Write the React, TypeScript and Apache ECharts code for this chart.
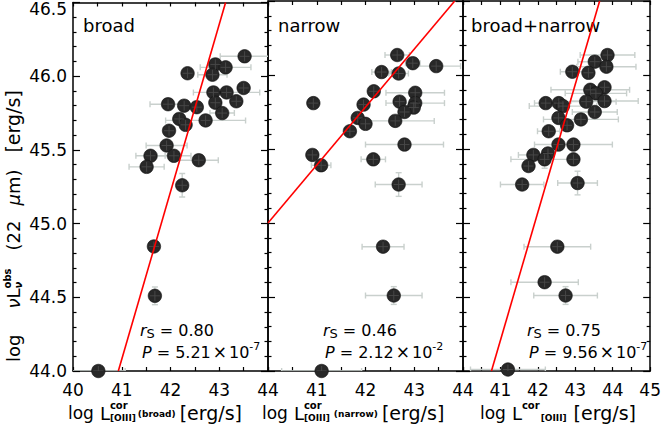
import React, { useEffect, useRef } from "react";
import * as echarts from "echarts";

// ---------------- data ----------------
const panelNames = ["broad", "narrow", "broad+narrow"];
const xMins = [40, 40, 40];
const xMaxes = [44, 44, 45];
const yMin = 44.0;
const yMax = 46.5;

const broadX = [43.52, 42.92, 43.13, 42.86, 42.35, 43.5, 43.15, 42.88, 43.35, 42.92, 41.95, 42.28, 42.54, 43.06, 42.18, 42.31, 42.72, 41.97, 41.92, 42.07, 41.59, 41.51, 42.58, 42.24, 41.66, 41.68, 40.52];
const broadY = [46.135, 46.08, 46.06, 46.01, 46.02, 45.92, 45.89, 45.89, 45.83, 45.82, 45.81, 45.8, 45.79, 45.75, 45.71, 45.67, 45.7, 45.63, 45.53, 45.46, 45.46, 45.385, 45.43, 45.26, 44.845, 44.51, 44.0];
const broadXErr = [0.5, 0, 0.52, 0.3, 0, 0, 0.68, 0, 0, 0, 0.37, 0, 0, 0.25, 0, 0, 0.82, 0, 0.42, 0.35, 0.3, 0.36, 0.4, 0, 0, 0, 0.55];
const broadYErr = [0, 0, 0, 0, 0, 0, 0, 0, 0, 0, 0, 0, 0, 0, 0, 0, 0, 0, 0, 0, 0, 0, 0, 0.08, 0, 0.06, 0];

const narrowX = [42.65, 42.97, 43.45, 42.33, 42.68, 42.17, 43.02, 40.93, 41.96, 42.7, 43.02, 42.99, 42.8, 41.84, 42.0, 42.61, 41.68, 42.8, 40.91, 41.09, 42.16, 42.68, 42.36, 42.58, 41.1];
const narrowY = [46.135, 46.08, 46.06, 46.02, 46.01, 45.89, 45.88, 45.81, 45.8, 45.82, 45.81, 45.78, 45.75, 45.71, 45.67, 45.69, 45.62, 45.53, 45.46, 45.39, 45.43, 45.26, 44.84, 44.51, 44.0];
const narrowXErr = [0.25, 0.15, 0.5, 0.2, 0.2, 0, 0.6, 0, 0, 0, 0.6, 0, 0, 0, 0, 0.8, 0, 0.8, 0, 0.2, 0.25, 0.48, 0.43, 0.58, 0.82];
const narrowYErr = [0, 0, 0, 0, 0, 0, 0, 0, 0, 0, 0, 0, 0, 0, 0, 0, 0, 0, 0, 0, 0, 0.08, 0, 0.06, 0];

const combX = [43.86, 43.52, 43.83, 42.92, 43.35, 43.4, 43.78, 43.55, 43.78, 43.29, 42.21, 42.56, 42.67, 43.52, 42.55, 42.78, 43.15, 42.29, 42.55, 42.95, 41.88, 42.27, 42.18, 42.95, 41.75, 41.58, 43.06, 42.52, 42.18, 42.74, 41.2];
const combY = [46.135, 46.09, 46.056, 46.022, 46.015, 45.9, 45.917, 45.876, 45.824, 45.82, 45.81, 45.81, 45.79, 45.75, 45.71, 45.66, 45.7, 45.62, 45.53, 45.53, 45.46, 45.47, 45.43, 45.43, 45.385, 45.26, 45.27, 44.84, 44.6, 44.51, 44.01];
const combXErr = [0.73, 0.45, 0.79, 0.32, 0, 1.05, 0, 0.82, 0.9, 0.8, 0.3, 0, 0.9, 0.6, 0, 0, 1.0, 0.3, 0, 1.04, 0.4, 0, 0.9, 0, 0, 0.58, 0.53, 0.89, 0.9, 0.85, 1.0];
const combYErr = [0, 0, 0, 0, 0, 0, 0, 0, 0, 0, 0, 0, 0, 0, 0, 0, 0, 0, 0, 0, 0, 0, 0.06, 0, 0, 0, 0.08, 0, 0, 0.06, 0];

// fitted lines (end points)
const broadFit = [[40.93, 44.0], [43.13, 46.5]];
const narrowFit = [[40.0, 45.0], [43.83, 46.5]];
const combFit = [[40.76, 44.0], [43.65, 46.5]];

const rsValues = ["0.80", "0.46", "0.75"];
const pMantissas = ["5.21", "2.12", "9.56"];
const pExponents = ["-7", "-2", "-7"];

// ---------------- styling ----------------
const FONT = "DejaVu Sans";
const ERR_COLOR = "#c9d0cd";
const PT_COLOR = "#282828";

type Piece = { t: string; size: number; italic?: boolean; bold?: boolean; dy?: number; pre?: number; stack?: boolean };

let measureCtx: CanvasRenderingContext2D | null = null;
function measure(t: string, size: number, italic?: boolean, bold?: boolean) {
  if (!measureCtx) measureCtx = document.createElement("canvas").getContext("2d");
  if (!measureCtx) return t.length * size * 0.6;
  measureCtx.font = `${italic ? "italic " : ""}${bold ? "bold " : ""}${size}px "${FONT}"`;
  return measureCtx.measureText(t).width;
}

function seq(pieces: Piece[], x: number, y: number, rotation = 0) {
  let cx = 0;
  let stackW = 0;
  const children: any[] = [];
  for (const p of pieces) {
    cx += p.pre || 0;
    const w = measure(p.t, p.size, p.italic, p.bold);
    children.push({
      type: "text",
      x: cx,
      y: p.dy || 0,
      style: {
        text: p.t,
        fontSize: p.size,
        fontFamily: FONT,
        fontStyle: p.italic ? "italic" : "normal",
        fontWeight: p.bold ? "bold" : "normal",
        fill: "#000",
        align: "left",
        verticalAlign: "middle",
        textAlign: "left",
        textVerticalAlign: "middle",
      },
    });
    if (p.stack) {
      stackW = Math.max(stackW, w);
    } else {
      cx += Math.max(w, stackW);
      stackW = 0;
    }
  }
  return { type: "group", x, y, rotation, children, silent: true };
}

function errRender(params: any, api: any) {
  const x = api.value(0);
  const y = api.value(1);
  const xe = api.value(2);
  const ye = api.value(3);
  const st = { stroke: ERR_COLOR, lineWidth: 1.4 };
  const cap = 3;
  const ch: any[] = [];
  if (xe > 0) {
    const a = api.coord([x - xe, y]);
    const b = api.coord([x + xe, y]);
    ch.push({ type: "line", shape: { x1: a[0], y1: a[1], x2: b[0], y2: b[1] }, style: st });
    ch.push({ type: "line", shape: { x1: a[0], y1: a[1] - cap, x2: a[0], y2: a[1] + cap }, style: st });
    ch.push({ type: "line", shape: { x1: b[0], y1: b[1] - cap, x2: b[0], y2: b[1] + cap }, style: st });
  }
  if (ye > 0) {
    const a = api.coord([x, y - ye]);
    const b = api.coord([x, y + ye]);
    ch.push({ type: "line", shape: { x1: a[0], y1: a[1], x2: b[0], y2: b[1] }, style: st });
    ch.push({ type: "line", shape: { x1: a[0] - cap, y1: a[1], x2: a[0] + cap, y2: a[1] }, style: st });
    ch.push({ type: "line", shape: { x1: b[0] - cap, y1: b[1], x2: b[0] + cap, y2: b[1] }, style: st });
  }
  return { type: "group", children: ch };
}

function crossRender(params: any, api: any) {
  const c = api.coord([api.value(0), api.value(1)]);
  const st = { stroke: "#4a4a4a", lineWidth: 0.9 };
  const r = 5;
  return {
    type: "group",
    children: [
      { type: "line", shape: { x1: c[0] - r, y1: c[1], x2: c[0] + r, y2: c[1] }, style: st },
      { type: "line", shape: { x1: c[0], y1: c[1] - r, x2: c[0], y2: c[1] + r }, style: st },
    ],
  };
}

function buildOption() {
  const lefts = [73, 268, 463];
  const W = 195;
  const panelsX = [broadX, narrowX, combX];
  const panelsY = [broadY, narrowY, combY];
  const panelsXE = [broadXErr, narrowXErr, combXErr];
  const panelsYE = [broadYErr, narrowYErr, combYErr];
  const fits = [broadFit, narrowFit, combFit];

  const grid = lefts.map((l) => ({ left: l, top: 1, width: W, height: 370 }));
  const axisLine = { show: true, onZero: false, lineStyle: { color: "#000", width: 1.5 } };
  const tickLine = { color: "#000", width: 1.2 };
  const xAxis: any[] = [];
  const yAxis: any[] = [];
  const series: any[] = [];

  lefts.forEach((_, i) => {
    const xBase = {
      type: "value",
      gridIndex: i,
      min: xMins[i],
      max: xMaxes[i],
      interval: 1,
      axisLine,
      axisTick: { show: true, inside: true, length: 4, lineStyle: tickLine },
      minorTick: { show: true, splitNumber: 2, length: 4, lineStyle: tickLine },
      splitLine: { show: false },
      minorSplitLine: { show: false },
    };
    xAxis.push({
      ...xBase,
      position: "bottom",
      axisLabel: {
        show: true,
        showMinLabel: i === 0,
        showMaxLabel: true,
        margin: 10,
        color: "#000",
        fontSize: 17,
        fontFamily: FONT,
      },
    });
    xAxis.push({ ...xBase, position: "top", axisLabel: { show: false } });

    const yBase = {
      type: "value",
      gridIndex: i,
      min: yMin,
      max: yMax,
      interval: 0.5,
      axisLine,
      axisTick: { show: true, inside: true, length: 7, lineStyle: tickLine },
      minorTick: { show: true, splitNumber: 5, length: 3.5, lineStyle: tickLine },
      splitLine: { show: false },
      minorSplitLine: { show: false },
    };
    yAxis.push({
      ...yBase,
      position: "left",
      axisLabel: {
        show: i === 0,
        margin: 6,
        color: "#000",
        fontSize: 17,
        fontFamily: FONT,
        formatter: (v: number) => (Math.abs(v - yMax) < 1e-6 ? "{t|" + v.toFixed(1) + "}" : v.toFixed(1)),
        rich: { t: { fontSize: 17, fontFamily: FONT, color: "#000", padding: [12, 0, 0, 0] } },
      },
    });
    yAxis.push({ ...yBase, position: "right", axisLabel: { show: false } });

    const xs = panelsX[i];
    const ys = panelsY[i];
    const errData: number[][] = [];
    xs.forEach((x, k) => {
      if (panelsXE[i][k] > 0 || panelsYE[i][k] > 0) errData.push([x, ys[k], panelsXE[i][k], panelsYE[i][k]]);
    });
    const pts = xs.map((x, k) => [x, ys[k]]);

    series.push({
      type: "custom",
      xAxisIndex: 2 * i,
      yAxisIndex: 2 * i,
      dimensions: ["x", "y", "xe", "ye"],
      encode: { x: 0, y: 1 },
      data: errData,
      renderItem: errRender,
      clip: true,
      silent: true,
      z: 2,
    });
    series.push({
      type: "scatter",
      xAxisIndex: 2 * i,
      yAxisIndex: 2 * i,
      data: pts,
      symbol: "circle",
      symbolSize: 13.5,
      itemStyle: { color: PT_COLOR, borderColor: "#111", borderWidth: 0.6, opacity: 1 },
      clip: true,
      silent: true,
      z: 3,
    });
    series.push({
      type: "custom",
      xAxisIndex: 2 * i,
      yAxisIndex: 2 * i,
      dimensions: ["x", "y"],
      encode: { x: 0, y: 1 },
      data: pts,
      renderItem: crossRender,
      clip: true,
      silent: true,
      z: 4,
    });
    series.push({
      type: "line",
      xAxisIndex: 2 * i,
      yAxisIndex: 2 * i,
      data: fits[i],
      symbol: "none",
      showSymbol: false,
      lineStyle: { color: "#ff0000", width: 1.6 },
      clip: true,
      silent: true,
      z: 5,
    });
  });

  const graphic: any[] = [];
  // panel names
  const nameX = [83, 278, 471];
  panelNames.forEach((n, i) => {
    graphic.push(seq([{ t: n, size: 18 }], nameX[i], 25));
  });
  // statistics
  const statX = [140, 323, 527];
  rsValues.forEach((rs, i) => {
    graphic.push(
      seq(
        [
          { t: "r", size: 16, italic: true },
          { t: "S", size: 13, dy: 3 },
          { t: "= " + rs, size: 16, pre: 5 },
        ],
        statX[i],
        330
      )
    );
    graphic.push(
      seq(
        [
          { t: "P", size: 16, italic: true },
          { t: "= " + pMantissas[i], size: 16, pre: 5 },
          { t: "\u00d7", size: 17, pre: 2 },
          { t: "10", size: 16, pre: 2 },
          { t: pExponents[i], size: 11, dy: -6 },
        ],
        statX[i] + 2,
        352
      )
    );
  });
  // x axis titles
  const xtY = 413;
  graphic.push(
    seq(
      [
        { t: "log", size: 17 },
        { t: "L", size: 18, pre: 6 },
        { t: "cor", size: 10, bold: true, dy: -8, stack: true },
        { t: "[OIII]", size: 9, bold: true, dy: 5 },
        { t: "(broad)", size: 9, bold: true, dy: 1, pre: 2 },
        { t: "[erg/s]", size: 19, pre: 4 },
      ],
      68,
      xtY
    )
  );
  graphic.push(
    seq(
      [
        { t: "log", size: 17 },
        { t: "L", size: 18, pre: 6 },
        { t: "cor", size: 10, bold: true, dy: -8, stack: true },
        { t: "[OIII]", size: 9, bold: true, dy: 5 },
        { t: "(narrow)", size: 9, bold: true, dy: 1, pre: 4 },
        { t: "[erg/s]", size: 19, pre: 4 },
      ],
      262,
      xtY
    )
  );
  graphic.push(
    seq(
      [
        { t: "log", size: 17 },
        { t: "L", size: 18, pre: 6 },
        { t: "cor", size: 10, bold: true, dy: -8 },
        { t: "[OIII]", size: 9, bold: true, dy: 5, pre: 1 },
        { t: "[erg/s]", size: 19, pre: 7 },
      ],
      480,
      xtY
    )
  );
  // y axis title (rotated)
  graphic.push(
    seq(
      [
        { t: "log", size: 18 },
        { t: "\u03bd", size: 18, italic: true, pre: 26 },
        { t: "L", size: 18 },
        { t: "\u03bd", size: 10, italic: true, bold: true, dy: 5, stack: true },
        { t: "obs", size: 10, bold: true, dy: -6 },
        { t: "(22", size: 18, pre: 18 },
        { t: "\u03bc", size: 18, italic: true, pre: 15 },
        { t: "m)", size: 18 },
        { t: "[erg/s]", size: 19, pre: 17 },
      ],
      13,
      362,
      Math.PI / 2
    )
  );

  return {
    animation: false,
    backgroundColor: "#fff",
    grid,
    xAxis,
    yAxis,
    series,
    graphic: { elements: graphic },
  };
}

export default function App() {
  const ref = useRef<HTMLDivElement>(null);
  useEffect(() => {
    if (!ref.current) return;
    const chart = echarts.init(ref.current, undefined, { renderer: "svg" });
    chart.setOption(buildOption() as any);
    return () => chart.dispose();
  }, []);
  return (
    <div
      ref={ref}
      style={{ position: "fixed", left: 0, top: 0, width: 664, height: 424, background: "#fff" }}
    />
  );
}
